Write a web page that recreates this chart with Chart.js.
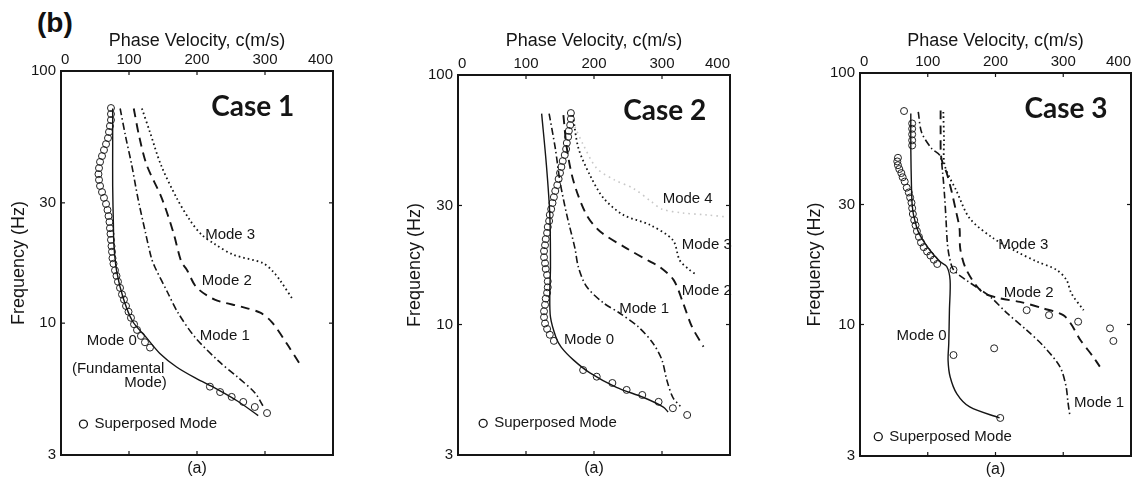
<!DOCTYPE html>
<html lang="en">
<head>
  <meta charset="UTF-8">
  <title>Phase velocity dispersion curves</title>
  <style>
    body {
      margin: 0;
      width: 1137px;
      height: 482px;
      position: relative;
      overflow: hidden;
      background: #fff;
    }
    .panel {
      position: absolute;
      top: 0;
      height: 482px;
    }
    #tag {
      position: absolute;
      left: 37px;
      top: 7px;
      font: bold 28px "Liberation Sans", Arial, sans-serif;
      color: #111;
    }
  </style>
</head>
<body>
  <div id="tag">(b)</div>
  <div class="panel" style="left:0;width:375px"><canvas id="case1"></canvas></div>
  <div class="panel" style="left:380px;width:370px"><canvas id="case2"></canvas></div>
  <div class="panel" style="left:770px;width:380px"><canvas id="case3"></canvas></div>

  <script src="https://cdn.jsdelivr.net/npm/chart.js@4.4.0/dist/chart.umd.min.js"></script>
  <script>
    // axes
    const FREQ_TICKS = [3, 10, 30, 100];
    const VEL_TICKS = [0, 100, 200, 300, 400];

    // [phase velocity m/s, frequency Hz]
    // Case 1
    const case1Mode0 = [[76,71],[76,50],[76,35],[77,25],[78,20],[82,16],[91,12.7],[105,10.2],[125,8.8],[145,7.6],[170,6.7],[198,6.05],[228,5.5],[260,4.9],[290,4.3]];
    const case1Mode1 = [[87,71],[95,55],[104,42.4],[113,31.4],[124,23],[133,18.1],[138,16.7],[157,13.2],[172,11],[197,8.8],[231,7.1],[260,6.1],[285,5.3],[297,4.7]];
    const case1Mode2 = [[107,71],[115,55],[126,42.4],[148,31.4],[165,23],[177,17.5],[185,16.3],[199,13.9],[226,12.4],[266,11.6],[293,11],[310,10.1],[332,8.3],[354,6.7]];
    const case1Mode3 = [[119,71],[131,57],[147,42.4],[170,31.4],[190,25.5],[207,22.4],[226,20.6],[253,18.7],[297,17.3],[312,16],[322,14.8],[341,12.4]];
    const case1Superposed = [[73.5,71.3],[73.5,67.5],[73.5,63.9],[72,60.5],[70.6,57.3],[69.1,54.2],[66.2,51.3],[63.2,48.6],[60.3,46],[57.4,43.6],[55.9,41.2],[55.1,39],[55.9,37],[57.4,35],[60.3,33.1],[63.2,31.4],[66.2,29.7],[68.4,28.1],[69.9,26.6],[71.3,25.2],[72,23.8],[72.8,22.6],[73.5,21.4],[74.3,20.2],[75,19.2],[75.7,18.1],[77.2,17.2],[79.4,16.2],[81.6,15.4],[83.8,14.6],[86.8,13.8],[89.7,13],[92.6,12.4],[95.6,11.7],[99.3,11.1],[102.9,10.5],[107.4,9.9],[111.8,9.4],[117.6,8.9],[123.5,8.4],[130.9,8.0],[219,5.6],[234,5.33],[251,5.1],[268,4.87],[285,4.65],[303,4.4]];

    // Case 2
    const case2Mode0 = [[123,70],[130,43.6],[135,27.5],[136,17],[135,13.4],[136,10.7],[144,8.9],[152,8.1],[170,7.2],[194,6.4],[233,5.6],[273,5.1],[302,4.67],[309,4.46]];
    const case2Mode1 = [[134,70],[143,51],[150,37.4],[160,27.5],[172,20.2],[177,17],[189,14.2],[214,12.2],[238,11.1],[265,9.8],[287,8.4],[300,7.2],[307,6.0],[316,5.1],[327,4.7]];
    const case2Mode2 = [[155,69],[160,51],[170,37.4],[189,27.5],[209,23.6],[248,20.2],[282,17.9],[297,17],[317,15.1],[331,12.2],[344,9.8],[361,8.15]];
    const case2Mode3 = [[169,69],[177,51],[194,39.7],[214,32.1],[243,27.5],[282,25.1],[316,21.8],[326,18.1],[340,16.6],[351,15.8]];
    const case2Mode4 = [[172,62],[185,52],[204,42.3],[230,38],[258,35.1],[285,31],[300,29],[330,28],[365,27.5],[395,27]];
    const case2Superposed = [[166,70.4],[166,66.7],[165,63],[163,59.7],[162,56.5],[160,53.4],[159,50.5],[157,47.8],[154,45.2],[152,42.8],[150,40.5],[148,38.3],[146,36.2],[143,34.3],[141,32.4],[139,30.7],[137,29],[135,27.5],[134,26],[132,24.6],[131,23.3],[129,22],[128,20.8],[126.5,19.7],[126.5,18.6],[128,17.6],[129,16.7],[131,15.8],[132,14.9],[132,14.1],[131,13.4],[129,12.7],[128,12],[126.5,11.3],[126.5,10.7],[128,10.1],[131,9.6],[135,9.1],[141,8.6],[184,6.57],[204,6.18],[227,5.83],[248,5.47],[271,5.22],[295,4.9],[316,4.62],[337,4.34]];

    // Case 3
    const case3Mode0 = [[75,69],[75,50],[76,35],[77,30],[79,27.3],[86,23.4],[101,20.1],[118,17.8],[128,17],[133,15],[132,11.4],[131,8.4],[130,7.2],[133,6.2],[143,5.3],[162,4.7],[206,4.25]];
    const case3Mode1 = [[86,70],[91,58],[106,50],[118,47],[122,40],[125,32],[127,26],[129,21],[132,18.5],[138,16.5],[157,15],[192,12.9],[217,11.1],[246,9.5],[271,8.2],[295,6.8],[304,5.7],[307,4.9],[310,4.3]];
    const case3Mode2 = [[119,71],[119,58],[120,46],[128,40],[135,34],[142,28],[147,24],[148,20],[157,16.5],[180,13.5],[207,12.7],[236,12.3],[270,11.6],[300,10.9],[312,10],[325,8.7],[344,7.45],[354,6.8]];
    const case3Mode3 = [[123,70],[124,55],[125,43],[143,33.7],[162,26.4],[197,22],[231,19.5],[261,17.8],[290,16.5],[305,15],[312,13.3],[330,11.4]];
    const case3Superposed = [[65,70.6],[77,63],[77,60],[77,57],[77,54],[77,51.5],[56,46],[55,44.5],[56,43],[58,41.5],[61,40],[63,38.5],[66,37],[69,35],[72,33.5],[74,32],[76,30.5],[77,29],[78,27.5],[80,26],[82,24.8],[84,23.5],[87,22.3],[90,21.2],[94,20.3],[99,19.5],[104,18.8],[109,18.1],[114,17.4],[138,16.5],[138,7.56],[198,8.04],[246,11.4],[279,10.9],[322,10.26],[369,9.65],[374,8.6],[207,4.25]];

    // text annotations, anchored in data units
    const case1Notes = [['Mode 3',212,22.4],['Mode 2',207,14.7],['Mode 1',204,8.9],['Mode 0',38,8.5],['(Fundamental',16,6.6],['Mode)',93,5.8]];
    const case2Notes = [['Mode 4',301,31.8],['Mode 3',329,20.8],['Mode 2',329,13.7],['Mode 1',237,11.6],['Mode 0',156,8.7]];
    const case3Notes = [['Mode 3',204,20.7],['Mode 2',212,13.4],['Mode 0',54,9.0],['Mode 1',316,4.86]];

    const INK = '#151515';
    const STYLES = {
      mode0: { dash: [], width: 1.4, color: INK },
      mode1: { dash: [7, 3, 1.5, 3], width: 1.6, color: INK },
      mode2: { dash: [9, 6], width: 1.9, color: INK },
      mode3: { dash: [1.6, 3], width: 1.8, color: INK },
      mode4: { dash: [1.6, 4], width: 1.6, color: '#c8c8c8' }
    };

    Chart.defaults.font.family = '"Liberation Sans", Arial, sans-serif';
    Chart.defaults.color = INK;

    function lineSet(points, style) {
      return {
        data: points.map(([v, f]) => ({ x: v, y: f })),
        showLine: true,
        pointRadius: 0,
        borderColor: style.color,
        borderWidth: style.width,
        borderDash: style.dash,
        tension: 0.3,
        fill: false
      };
    }

    function circleSet(points) {
      return {
        data: points.map(([v, f]) => ({ x: v, y: f })),
        showLine: false,
        pointStyle: 'circle',
        pointRadius: 3.5,
        pointBorderWidth: 1,
        borderColor: '#222',
        backgroundColor: 'rgba(0,0,0,0)'
      };
    }

    // frame, inward ticks, case name, notes, key and "(a)"
    const decor = {
      id: 'decor',
      afterDatasetsDraw(chart, args, opts) {
        const { ctx, chartArea: a, scales: { x, y } } = chart;
        const seg = (x1, y1, x2, y2) => { ctx.beginPath(); ctx.moveTo(x1, y1); ctx.lineTo(x2, y2); ctx.stroke(); };
        ctx.save();
        ctx.strokeStyle = INK;
        ctx.fillStyle = INK;
        ctx.lineWidth = 2;
        ctx.strokeRect(a.left, a.top, a.right - a.left, a.bottom - a.top);

        ctx.lineWidth = 1.2;
        VEL_TICKS.slice(1, -1).forEach(v => {
          const px = x.getPixelForValue(v);
          seg(px, a.top, px, a.top + 4);
          seg(px, a.bottom, px, a.bottom - 4);
        });
        FREQ_TICKS.slice(1, -1).forEach(f => {
          const py = y.getPixelForValue(f);
          seg(a.left, py, a.left + 4, py);
          seg(a.right, py, a.right - 4, py);
        });

        ctx.textBaseline = 'middle';
        ctx.textAlign = 'center';
        ctx.font = 'bold 28px Lato, "Open Sans", sans-serif';
        ctx.fillText(opts.caseName, x.getPixelForValue(opts.caseAt[0]), y.getPixelForValue(opts.caseAt[1]));

        ctx.textAlign = 'left';
        ctx.font = '15px "Liberation Sans", Arial, sans-serif';
        opts.notes.forEach(([t, v, f]) => ctx.fillText(t, x.getPixelForValue(v), y.getPixelForValue(f)));

        const kx = x.getPixelForValue(opts.keyAt[0]);
        const ky = y.getPixelForValue(opts.keyAt[1]);
        ctx.lineWidth = 1.3;
        ctx.beginPath();
        ctx.arc(kx, ky, 4, 0, Math.PI * 2);
        ctx.stroke();
        ctx.fillText('Superposed Mode', kx + 11, ky);

        ctx.textAlign = 'center';
        ctx.font = '16px "Liberation Sans", Arial, sans-serif';
        ctx.fillText('(a)', (a.left + a.right) / 2, a.bottom + 14);
        ctx.restore();
      }
    };

    function makePanel(p) {
      const area = p.area;
      return new Chart(document.getElementById(p.id), {
        type: 'scatter',
        data: { datasets: p.datasets },
        plugins: [decor],
        options: {
          responsive: true,
          maintainAspectRatio: false,
          animation: false,
          layout: { padding: { top: 0, left: 0, right: p.canvasRight - area.right, bottom: 482 - area.bottom } },
          plugins: {
            legend: { display: false },
            tooltip: { enabled: false },
            decor: { caseName: p.caseName, caseAt: p.caseAt, notes: p.notes, keyAt: p.keyAt }
          },
          scales: {
            x: {
              type: 'linear',
              position: 'top',
              min: 0,
              max: 400,
              afterBuildTicks: s => { s.ticks = VEL_TICKS.map(v => ({ value: v })); },
              afterFit: s => { s.height = area.top; },
              ticks: { font: { size: 15 }, padding: 2, maxRotation: 0, align: 'inner', color: INK },
              grid: { display: false, drawTicks: false },
              border: { display: false },
              title: { display: true, text: 'Phase Velocity, c(m/s)', font: { size: 18 }, color: INK, padding: { top: 30, bottom: 0 } }
            },
            y: {
              type: 'logarithmic',
              position: 'left',
              min: 3,
              max: 100,
              afterBuildTicks: s => { s.ticks = FREQ_TICKS.map(v => ({ value: v })); },
              afterFit: s => { s.width = area.left - p.canvasLeft; },
              ticks: { font: { size: 15 }, padding: 5, autoSkip: false, color: INK, callback: v => String(v) },
              grid: { display: false, drawTicks: false },
              border: { display: false },
              title: { display: true, text: 'Frequency (Hz)', font: { size: 18 }, color: INK, padding: { top: p.yTitlePad, bottom: 0 } }
            }
          }
        }
      });
    }

    makePanel({
      id: 'case1', canvasLeft: 0, canvasRight: 375, yTitlePad: 8,
      area: { left: 61, right: 333, top: 71, bottom: 455 },
      caseName: 'Case 1', caseAt: [282, 72], notes: case1Notes, keyAt: [33, 3.98],
      datasets: [
        lineSet(case1Mode0, STYLES.mode0),
        lineSet(case1Mode1, STYLES.mode1),
        lineSet(case1Mode2, STYLES.mode2),
        lineSet(case1Mode3, STYLES.mode3),
        circleSet(case1Superposed)
      ]
    });

    makePanel({
      id: 'case2', canvasLeft: 380, canvasRight: 750, yTitlePad: 24,
      area: { left: 458, right: 730, top: 75, bottom: 455 },
      caseName: 'Case 2', caseAt: [304, 72], notes: case2Notes, keyAt: [37, 4.02],
      datasets: [
        lineSet(case2Mode4, STYLES.mode4),
        lineSet(case2Mode0, STYLES.mode0),
        lineSet(case2Mode1, STYLES.mode1),
        lineSet(case2Mode2, STYLES.mode2),
        lineSet(case2Mode3, STYLES.mode3),
        circleSet(case2Superposed)
      ]
    });

    makePanel({
      id: 'case3', canvasLeft: 770, canvasRight: 1150, yTitlePad: 34,
      area: { left: 860, right: 1131, top: 73, bottom: 456 },
      caseName: 'Case 3', caseAt: [304, 72], notes: case3Notes, keyAt: [27, 3.58],
      datasets: [
        lineSet(case3Mode0, STYLES.mode0),
        lineSet(case3Mode1, STYLES.mode1),
        lineSet(case3Mode2, STYLES.mode2),
        lineSet(case3Mode3, STYLES.mode3),
        circleSet(case3Superposed)
      ]
    });
  </script>
</body>
</html>
